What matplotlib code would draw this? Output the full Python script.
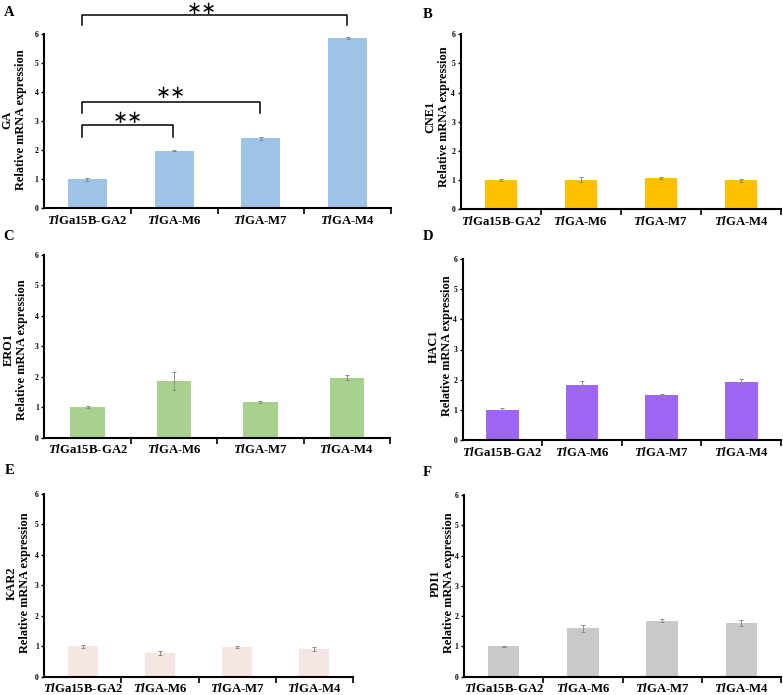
import matplotlib
matplotlib.use("Agg")
import matplotlib.pyplot as plt
import numpy as np

plt.rcParams['font.family'] = ['Liberation Serif', 'DejaVu Serif']
plt.rcParams['font.weight'] = 'bold'
plt.rcParams['mathtext.fontset'] = 'custom'
plt.rcParams['mathtext.it'] = 'Liberation Serif:italic:bold'
plt.rcParams['mathtext.rm'] = 'Liberation Serif:bold'

categories = [r"$\mathit{Tl}$Ga15B-GA2", r"$\mathit{Tl}$GA-M6", r"$\mathit{Tl}$GA-M7", r"$\mathit{Tl}$GA-M4"]
yticks = [0, 1, 2, 3, 4, 5, 6]

genes = ["GA", "CNE1", "ERO1", "HAC1", "KAR2", "PDI1"]
letters = ["A", "B", "C", "D", "E", "F"]

ga_vals = [1.00, 1.99, 2.41, 5.87]
ga_err = [0.06, 0.03, 0.04, 0.04]
cne1_vals = [1.00, 1.01, 1.07, 0.98]
cne1_err = [0.04, 0.08, 0.04, 0.04]
ero1_vals = [1.00, 1.86, 1.17, 1.97]
ero1_err = [0.03, 0.29, 0.04, 0.08]
hac1_vals = [1.00, 1.81, 1.48, 1.93]
hac1_err = [0.05, 0.14, 0.05, 0.10]
kar2_vals = [1.00, 0.77, 0.97, 0.91]
kar2_err = [0.05, 0.07, 0.03, 0.06]
pdi1_vals = [1.00, 1.60, 1.85, 1.77]
pdi1_err = [0.03, 0.11, 0.05, 0.10]

values = [ga_vals, cne1_vals, ero1_vals, hac1_vals, kar2_vals, pdi1_vals]
errors = [ga_err, cne1_err, ero1_err, hac1_err, kar2_err, pdi1_err]
colors = ["#9DC3E6", "#FFC000", "#A9D18E", "#9F66F5", "#F5E6E3", "#C9C9C9"]

# significance brackets for panel A
sig_pairs = [(0, 1), (0, 2), (0, 3)]
sig_levels = [2.86, 3.66, 6.66]
sig_legs = [2.45, 3.28, 6.31]
sig_star_y = [3.11, 3.97, 6.88]
sig_text = "∗∗"

W, H = 783, 695
rects_px = [
    (44, 391, 208.3, 34.3),
    (460.7, 781, 209, 34.3),
    (44.3, 390, 437.7, 255),
    (462.7, 781, 440, 259),
    (44.3, 352.7, 676.7, 494),
    (464, 781, 676.7, 495),
]
bar_widths = [0.45, 0.40, 0.40, 0.41, 0.39, 0.40]
label_pos = [(14.5, 120), (437, 117), (15.5, 350), (440, 346), (18.5, 583), (442, 583)]
letter_pos = [(4, 13), (423, 14), (3, 236), (423, 237), (5, 470), (423, 472)]

fig = plt.figure(figsize=(W / 100, H / 100), dpi=100)

for k in range(6):
    l, r, b, t = rects_px[k]
    ax = fig.add_axes([l / W, 1 - b / H, (r - l) / W, (b - t) / H])
    x = np.arange(len(categories))
    ax.bar(x, values[k], width=bar_widths[k], color=colors[k], zorder=2)
    ax.errorbar(x, values[k], yerr=errors[k], fmt='none', ecolor='#8a8a8a',
                elinewidth=0.7, capsize=1.5, capthick=0.7, zorder=3)
    ax.set_xlim(-0.5, 3.5)
    ax.set_ylim(0, 6)
    ax.set_yticks(yticks)
    ax.set_yticklabels([str(v) for v in yticks], fontsize=5.5, fontweight='bold')
    ax.set_xticks(x)
    ax.set_xticklabels(categories, fontsize=9.2, fontweight='bold')
    ax.set_xticks([0.5, 1.5, 2.5, 3.5], minor=True)
    ax.tick_params(axis='x', which='major', length=0, pad=4)
    ax.tick_params(axis='x', which='minor', length=4, width=1.2, direction='out')
    ax.tick_params(axis='y', length=2.5, width=1.0, direction='out', pad=1.5)
    for s in ['top', 'right']:
        ax.spines[s].set_visible(False)
    for s in ['left', 'bottom']:
        ax.spines[s].set_linewidth(1.5)
        ax.spines[s].set_color('black')
    fig.text(label_pos[k][0] / W, 1 - label_pos[k][1] / H,
             genes[k] + "\nRelative mRNA expression", rotation=90,
             ha='center', va='center', multialignment='center',
             fontsize=8.8, fontweight='bold', linespacing=1.15)
    fig.text(letter_pos[k][0] / W, 1 - letter_pos[k][1] / H, letters[k],
             ha='left', va='center', fontsize=10.5, fontweight='bold')
    if k == 0:
        for (i, j), lev, leg, sy in zip(sig_pairs, sig_levels, sig_legs, sig_star_y):
            xi = i - 0.06
            xj = j - 0.01
            ax.plot([xi, xi, xj, xj], [leg, lev, lev, leg], color='black',
                    lw=1.1, clip_on=False, zorder=4)
            ax.text((xi + xj) / 2 - (0.15 if j == 3 else 0), sy, sig_text,
                    ha='center', va='center', fontsize=13,
                    family='DejaVu Sans', fontweight='normal', clip_on=False)

fig.savefig("out.png", dpi=100)
